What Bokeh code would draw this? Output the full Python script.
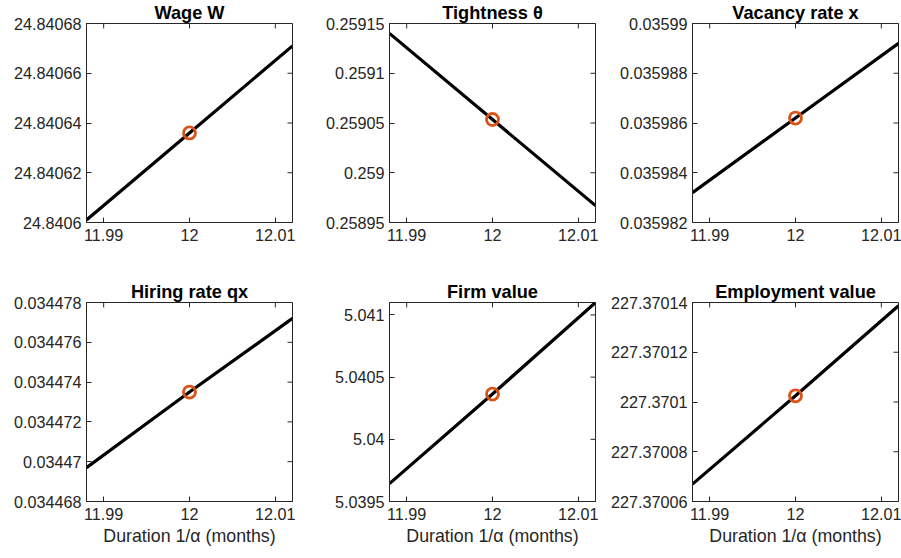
from bokeh.plotting import figure
from bokeh.layouts import column, row
from bokeh.models import FixedTicker, CustomJSTickFormatter
from bokeh.embed import file_html
from bokeh.resources import INLINE

# Duration 1/alpha (months) around the 12-month baseline
duration = [11.988, 12.0, 12.012]
baseline = [12.0]
x_ticks = [11.99, 12.0, 12.01]

wage = [24.840601, 24.840636, 24.840671]
tightness = [0.259140, 0.2590535, 0.258967]
vacancy = [0.0359832, 0.0359862, 0.0359892]
hiring = [0.0344697, 0.0344735, 0.0344772]
firm_value = [5.039644, 5.040364, 5.041100]
employment_value = [227.370067, 227.3701025, 227.3701387]

wage_ticks = [24.8406, 24.84062, 24.84064, 24.84066, 24.84068]
tightness_ticks = [0.25895, 0.259, 0.25905, 0.2591, 0.25915]
vacancy_ticks = [0.035982, 0.035984, 0.035986, 0.035988, 0.03599]
hiring_ticks = [0.034468, 0.03447, 0.034472, 0.034474, 0.034476, 0.034478]
firm_ticks = [5.0395, 5.04, 5.0405, 5.041]
employment_ticks = [227.37006, 227.37008, 227.3701, 227.37012, 227.37014]

AXIS_GRAY = "#262626"
FONT = "Liberation Sans"
TICK_SIZE = "16.2px"
TITLE_SIZE = "18.2px"
LABEL_SIZE = "17.8px"
TICK_LEN = 5          # inward tick length, px
FRAME_W, FRAME_H = 206, 201

fmt_code = "return String(parseFloat(tick.toFixed(8)));"


def style_axis(ax, ticks, standoff):
    ax.ticker = FixedTicker(ticks=ticks)
    ax.formatter = CustomJSTickFormatter(code=fmt_code)
    ax.major_tick_in = TICK_LEN
    ax.major_tick_out = 0
    ax.minor_tick_line_color = None
    ax.axis_line_color = AXIS_GRAY
    ax.major_tick_line_color = AXIS_GRAY
    ax.major_label_text_color = AXIS_GRAY
    ax.major_label_text_font = FONT
    ax.major_label_text_font_size = TICK_SIZE
    ax.major_label_standoff = standoff


def panel(title, ys, y_ticks, y_range, width, b_left, b_right, xlabel):
    x0, x1 = duration[0], duration[-1]
    y0, y1 = y_range
    p = figure(width=width, height=279, x_range=(x0, x1),
               y_range=y_range, output_backend="svg", toolbar_location=None,
               min_border_left=b_left, min_border_right=b_right,
               min_border_top=21, min_border_bottom=57)
    p.xgrid.visible = False
    p.ygrid.visible = False
    p.outline_line_color = AXIS_GRAY
    p.outline_line_width = 1
    p.background_fill_color = "white"
    p.border_fill_color = "white"

    p.title.text = title
    p.title.align = "center"
    p.title.text_font = FONT
    p.title.text_font_style = "bold"
    p.title.text_font_size = TITLE_SIZE
    p.title.text_color = "black"
    p.title.standoff = 1

    style_axis(p.xaxis[0], x_ticks, 6)
    style_axis(p.yaxis[0], y_ticks, 5)
    if xlabel:
        p.xaxis[0].axis_label = xlabel
        p.xaxis[0].axis_label_text_font = FONT
        p.xaxis[0].axis_label_text_font_size = LABEL_SIZE
        p.xaxis[0].axis_label_text_font_style = "normal"
        p.xaxis[0].axis_label_text_color = AXIS_GRAY
        p.xaxis[0].axis_label_standoff = 3

    # mirrored inward ticks on the top and right edges of the box
    dy = (y1 - y0) * TICK_LEN / FRAME_H
    dx = (x1 - x0) * TICK_LEN / FRAME_W
    p.segment(x0=x_ticks, y0=[y1] * len(x_ticks), x1=x_ticks,
              y1=[y1 - dy] * len(x_ticks), line_color=AXIS_GRAY, line_width=1)
    p.segment(x0=[x1] * len(y_ticks), y0=y_ticks, x1=[x1 - dx] * len(y_ticks),
              y1=y_ticks, line_color=AXIS_GRAY, line_width=1)

    p.line(duration, ys, line_color="black", line_width=3.2)
    p.scatter(baseline, [ys[1]], marker="circle", size=12, fill_color=None,
              line_color="#D95319", line_width=2.8)
    return p


xl = "Duration 1/α (months)"
p1 = panel("Wage W", wage, wage_ticks, (24.8406, 24.84068), 300, 86, 8, None)
p2 = panel("Tightness θ", tightness, tightness_ticks, (0.25895, 0.25915), 303, 89, 8, None)
p3 = panel("Vacancy rate x", vacancy, vacancy_ticks, (0.035982, 0.03599), 298, 89, 3, None)
p4 = panel("Hiring rate qx", hiring, hiring_ticks, (0.034468, 0.034478), 300, 86, 8, xl)
p5 = panel("Firm value", firm_value, firm_ticks, (5.0395, 5.0411), 303, 89, 8, xl)
p6 = panel("Employment value", employment_value, employment_ticks, (227.37006, 227.37014), 298, 89, 3, xl)

layout = column(row(p1, p2, p3), row(p4, p5, p6))

open("out.html", "w").write(file_html(layout, INLINE))
